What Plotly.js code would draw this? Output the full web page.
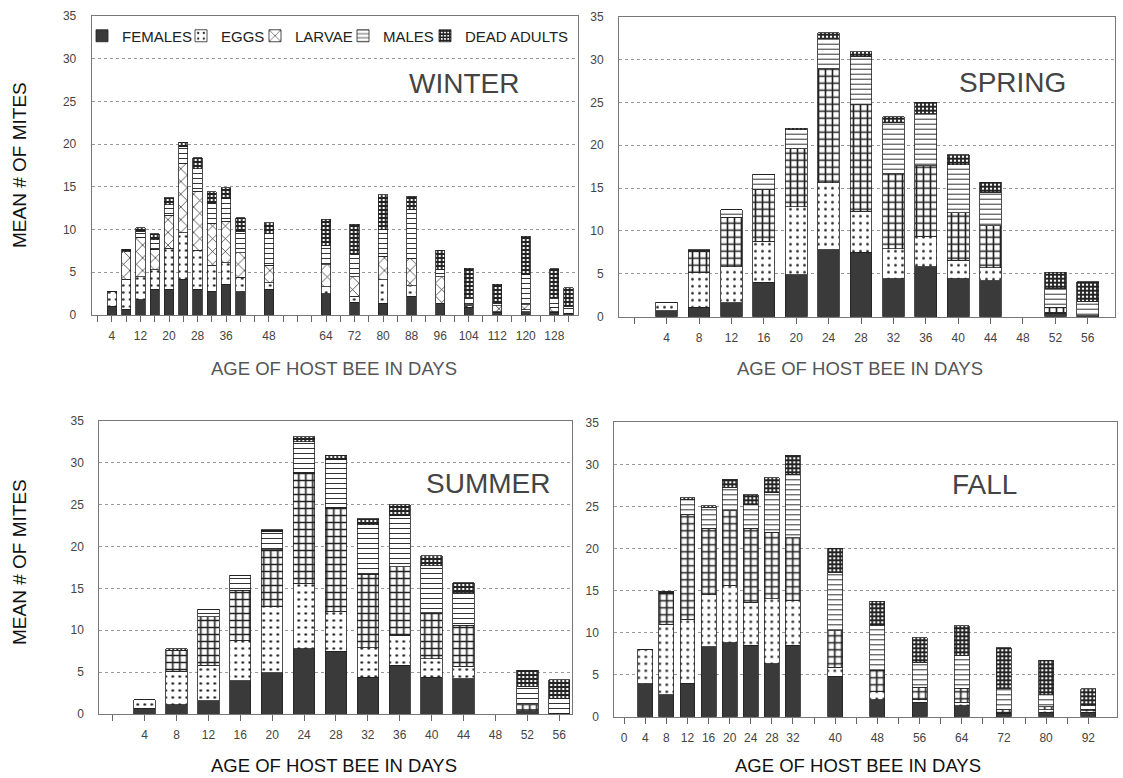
<!DOCTYPE html>
<html>
<head>
<meta charset="utf-8">
<script src="https://cdn.plot.ly/plotly-3.0.1.min.js"></script>
<style>html,body{margin:0;padding:0;background:#fff;}#chart{width:1123px;height:778px;}</style>
</head>
<body>
<div id="chart"></div>
<script>
// ---------- DATA ----------
const seriesNames = ['FEMALES', 'EGGS', 'LARVAE', 'MALES', 'DEAD ADULTS'];

// WINTER
const winterCategories = ['0','4','8','12','16','20','24','28','32','36','40','44','48','52','56','60','64','68','72','76','80','84','88','92','96','100','104','108','112','116','120','124','128','132'];
const winterTickText   = ['','4','','12','','20','','28','','36','','','48','','','','64','','72','','80','','88','','96','','104','','112','','120','','128',''];
const winterDays    = ['4','8','12','16','20','24','28','32','36','40','48','64','72','80','88','96','104','112','120','128','132'];
const winterFemales = [1.0,0.7,1.8,3.0,3.0,4.2,3.0,2.8,3.6,2.7,3.0,2.5,1.5,1.4,2.2,1.3,0.9,0.3,0.4,0.3,0.2];
const winterEggs    = [1.7,3.5,2.7,2.3,4.8,5.4,4.6,3.0,2.5,1.7,0.8,0.8,0.7,2.7,1.2,0.1,0.2,0.1,0.2,0.1,0.0];
const winterLarvae  = [0.0,3.2,4.6,2.4,3.9,8.1,6.9,4.9,4.9,2.9,2.0,2.6,2.3,2.8,3.2,3.1,0.1,0.7,0.6,0.5,0.0];
const winterMales   = [0.0,0.0,0.7,1.1,1.2,2.0,2.6,2.4,2.6,2.5,3.7,2.2,2.6,3.1,5.7,0.8,0.9,0.4,3.5,1.1,0.8];
const winterDead    = [0.0,0.3,0.4,0.7,0.8,0.5,1.3,1.3,1.3,1.6,1.3,3.1,3.5,4.1,1.6,2.3,3.4,2.1,4.5,3.4,2.2];

// SPRING
const springCategories = ['0','4','8','12','16','20','24','28','32','36','40','44','48','52','56'];
const springTickText   = ['','4','8','12','16','20','24','28','32','36','40','44','48','52','56'];
const springDays    = ['4','8','12','16','20','24','28','32','36','40','44','52','56'];
const springFemales = [0.7,1.1,1.6,4.0,4.9,7.8,7.5,4.4,5.8,4.4,4.2,0.4,0.1];
const springEggs    = [1.0,4.0,4.2,4.8,7.9,7.8,4.8,3.5,3.6,2.2,1.5,0.1,0.0];
const springLarvae  = [0.0,2.5,5.8,6.0,6.8,13.3,12.4,8.8,8.2,5.5,4.9,0.6,0.0];
const springMales   = [0.0,0.0,0.9,1.8,2.2,3.6,5.7,5.9,6.1,5.6,3.9,2.2,1.7];
const springDead    = [0.0,0.2,0.0,0.0,0.2,0.6,0.5,0.7,1.3,1.2,1.2,1.9,2.3];

// SUMMER
const summerCategories = ['0','4','8','12','16','20','24','28','32','36','40','44','48','52','56'];
const summerTickText   = ['','4','8','12','16','20','24','28','32','36','40','44','48','52','56'];
const summerDays    = ['4','8','12','16','20','24','28','32','36','40','44','52','56'];
const summerFemales = [0.7,1.1,1.6,4.0,4.9,7.8,7.5,4.4,5.8,4.4,4.2,0.4,0.1];
const summerEggs    = [1.0,4.0,4.2,4.8,7.9,7.8,4.8,3.5,3.6,2.2,1.5,0.1,0.0];
const summerLarvae  = [0.0,2.5,5.8,6.0,6.8,13.3,12.4,8.8,8.2,5.5,4.9,0.6,0.0];
const summerMales   = [0.0,0.0,0.9,1.8,2.2,3.6,5.7,5.9,6.1,5.6,3.9,2.2,1.7];
const summerDead    = [0.0,0.2,0.0,0.0,0.2,0.6,0.5,0.7,1.3,1.2,1.2,1.9,2.3];

// FALL
const fallCategories = ['0','4','8','12','16','20','24','28','32','36','40','44','48','52','56','60','64','68','72','76','80','86','92'];
const fallTickText   = ['0','4','8','12','16','20','24','28','32','','40','','48','','56','','64','','72','','80','','92'];
const fallDays    = ['4','8','12','16','20','24','28','32','40','48','56','64','72','80','92'];
const fallFemales = [3.9,2.6,4.0,8.3,8.8,8.5,6.3,8.5,4.8,2.0,1.7,1.3,0.4,0.5,0.5];
const fallEggs    = [4.1,8.4,7.6,6.2,6.8,5.1,7.7,5.3,1.1,1.0,0.4,0.4,0.1,0.3,0.2];
const fallLarvae  = [0.0,3.7,12.4,7.9,8.9,8.8,7.9,7.5,4.3,2.5,1.4,1.7,0.3,0.4,0.2];
const fallMales   = [0.0,0.0,1.8,2.5,2.8,2.8,4.7,7.5,7.0,5.3,3.0,3.9,2.6,1.4,0.4];
const fallDead    = [0.0,0.2,0.2,0.2,0.9,1.2,1.8,2.3,2.8,2.9,2.9,3.5,4.8,4.1,2.0];

// ---------- STYLES ----------
const W = 1123, H = 778;
const px = x => x / W;
const py = y => 1 - y / H;
const EDGE = {color: '#222', width: 0.8};
const styleFemales = {color: '#3a3a3a', line: EDGE};
const styleEggs    = {color: '#fff', line: EDGE, pattern: {shape: '.', fgcolor: '#222', bgcolor: '#fff', size: 7, solidity: 0.12}};
const styleLarvaeX = {color: '#fff', line: EDGE, pattern: {shape: 'x', fgcolor: '#222', bgcolor: '#fff', size: 9, solidity: 0.15}};
const styleBricks  = {color: '#fff', line: EDGE, pattern: {shape: '+', fgcolor: '#222', bgcolor: '#fff', size: 7, solidity: 0.42}};
const styleMales   = {color: '#fff', line: EDGE, pattern: {shape: '-', fgcolor: '#333', bgcolor: '#fff', size: 5, solidity: 0.2}};
const styleDead    = {color: '#444', line: EDGE, pattern: {shape: '+', fgcolor: '#222', bgcolor: '#fff', size: 4, solidity: 0.7}};

function panel(xa, ya, days, vals, larvaeStyle, width, inLegend) {
  const styles = [styleFemales, styleEggs, larvaeStyle, styleMales, styleDead];
  return vals.map((v, i) => {
    const t = {
      type: 'bar', name: seriesNames[i], x: days, y: v,
      xaxis: xa, yaxis: ya, width: width,
      marker: JSON.parse(JSON.stringify(styles[i])),
      showlegend: inLegend, hoverinfo: 'x+y+name'
    };
    if (inLegend) t.legend = i === 0 ? 'legend' : 'legend' + (i + 1);
    return t;
  });
}

const data = [].concat(
  panel('x', 'y', winterDays, [winterFemales, winterEggs, winterLarvae, winterMales, winterDead], styleLarvaeX, 0.65, true),
  panel('x2', 'y2', springDays, [springFemales, springEggs, springLarvae, springMales, springDead], styleBricks, 0.67, false),
  panel('x3', 'y3', summerDays, [summerFemales, summerEggs, summerLarvae, summerMales, summerDead], styleBricks, 0.67, false),
  panel('x4', 'y4', fallDays, [fallFemales, fallEggs, fallLarvae, fallMales, fallDead], styleBricks, 0.71, false)
);

const tickFont = {family: 'Liberation Sans, Arial, sans-serif', size: 12, color: '#444'};
function xAxis(cats, text, domain, range, anchor) {
  return {
    type: 'category', categoryorder: 'array', categoryarray: cats,
    tickmode: 'array', tickvals: cats, ticktext: text,
    domain: domain, range: range, anchor: anchor,
    ticks: 'outside', ticklen: 6, tickcolor: '#666', tickwidth: 1,
    showline: true, mirror: true, linecolor: '#777', linewidth: 1,
    showgrid: false, zeroline: false, tickfont: tickFont, ticklabelstandoff: 4,
    fixedrange: true
  };
}
function yAxis(domain, anchor) {
  return {
    range: [0, 35], tickmode: 'linear', tick0: 0, dtick: 5,
    domain: domain, anchor: anchor,
    showline: true, mirror: true, linecolor: '#777', linewidth: 1,
    showgrid: true, gridcolor: '#9a9a9a', griddash: 'dot', gridwidth: 1,
    zeroline: false, ticks: '', tickfont: tickFont, ticklabelstandoff: 12,
    fixedrange: true
  };
}

const legendFont = {family: 'Liberation Sans, Arial, sans-serif', size: 15, color: '#222'};
function legendAt(xpx) {
  return {x: px(xpx), y: py(36), xanchor: 'left', yanchor: 'middle', orientation: 'h',
          bgcolor: 'rgba(0,0,0,0)', borderwidth: 0, font: legendFont, itemwidth: 30,
          itemclick: false, itemdoubleclick: false};
}

const annFont = (size, color) => ({family: 'Liberation Sans, Arial, sans-serif', size: size, color: color});
function ann(text, x, y, size, color, angle) {
  return {text: text, x: px(x), y: py(y), xref: 'paper', yref: 'paper', showarrow: false,
          xanchor: 'center', yanchor: 'middle', font: annFont(size, color), textangle: angle || 0};
}

const layout = {
  width: W, height: H, margin: {l: 0, r: 0, t: 0, b: 0},
  paper_bgcolor: '#fff', plot_bgcolor: '#fff',
  barmode: 'stack', bargap: 0.3,
  font: {family: 'Liberation Sans, Arial, sans-serif'},
  xaxis:  xAxis(winterCategories, winterTickText, [px(91.7), px(578)], [-0.42, 33.66], 'y'),
  yaxis:  yAxis([py(315), py(16)], 'x'),
  xaxis2: xAxis(springCategories, springTickText, [px(619), px(1115)], [-0.47, 14.84], 'y2'),
  yaxis2: yAxis([py(316.7), py(16.7)], 'x2'),
  xaxis3: xAxis(summerCategories, summerTickText, [px(99.3), px(572)], [-0.42, 14.4], 'y3'),
  yaxis3: yAxis([py(714), py(421)], 'x3'),
  xaxis4: xAxis(fallCategories, fallTickText, [px(614.3), px(1117)], [-0.47, 23.36], 'y4'),
  yaxis4: yAxis([py(716.7), py(422.3)], 'x4'),
  legend:  legendAt(82),
  legend2: legendAt(181),
  legend3: legendAt(255),
  legend4: legendAt(343),
  legend5: legendAt(425),
  annotations: [
    ann('WINTER', 464, 83, 28, '#444'),
    ann('SPRING', 1012, 82, 28, '#444'),
    ann('SUMMER', 488, 483, 28, '#444'),
    ann('FALL', 984, 484, 28, '#444'),
    ann('AGE OF HOST BEE IN DAYS', 334, 368, 18.5, '#555'),
    ann('AGE OF HOST BEE IN DAYS', 860, 368, 18.5, '#555'),
    ann('AGE OF HOST BEE IN DAYS', 334, 765, 18.5, '#111'),
    ann('AGE OF HOST BEE IN DAYS', 858, 765, 18.5, '#111'),
    ann('MEAN # OF MITES', 19, 165, 19, '#111', -90),
    ann('MEAN # OF MITES', 19, 562, 19, '#111', -90)
  ],
  showlegend: true
};

Plotly.newPlot('chart', data, layout, {staticPlot: false, displayModeBar: false, responsive: false});
</script>
</body>
</html>
